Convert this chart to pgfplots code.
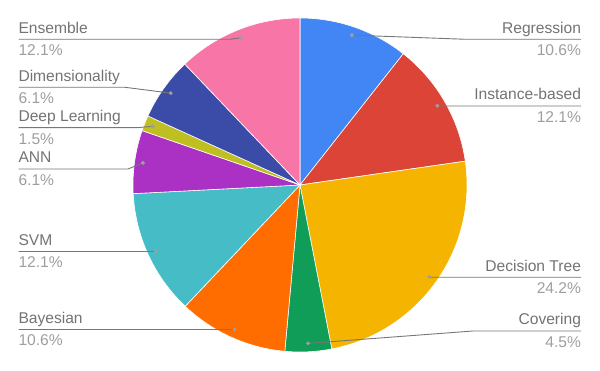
\documentclass[border=0pt]{standalone}
\usepackage{pgfplots}
\pgfplotsset{compat=1.18}
\usepackage{pgfplotstable}
\usepackage{fontspec}
\setmainfont{Liberation Sans}

\definecolor{cReg}{HTML}{4285F4}
\definecolor{cIns}{HTML}{DB4437}
\definecolor{cDec}{HTML}{F4B400}
\definecolor{cCov}{HTML}{0F9D58}
\definecolor{cBay}{HTML}{FF6D00}
\definecolor{cSVM}{HTML}{46BDC6}
\definecolor{cANN}{HTML}{AB30C4}
\definecolor{cDL}{HTML}{BFBF22}
\definecolor{cDim}{HTML}{3A4BA8}
\definecolor{cEns}{HTML}{F775A7}
\definecolor{txtA}{HTML}{737373}
\definecolor{txtB}{HTML}{9E9E9E}
\definecolor{lead}{HTML}{777777}

% name, percent, colour, side (0 left / 1 right), label line y, bend x
\pgfplotstableread[col sep=comma]{
name,pct,color,side,ly,bx
Regression,10.6,cReg,1,39.3,466
Instance-based,12.1,cIns,1,106,440
Decision Tree,24.2,cDec,1,277.3,430
Covering,4.5,cCov,1,331,473
Bayesian,10.6,cBay,0,329.5,230
SVM,12.1,cSVM,0,251.5,152
ANN,6.1,cANN,0,169,128
Deep Learning,1.5,cDL,0,127.7,137
Dimensionality,6.1,cDim,0,87.3,125
Ensemble,12.1,cEns,0,39.3,230
}\pietable

\tikzset{lbl/.style={font=\fontsize{15.6}{18}\selectfont, inner sep=0pt, outer sep=0pt}}

\begin{document}
\begin{tikzpicture}
\begin{axis}[
  width=600pt, height=371pt, scale only axis,
  xmin=0, xmax=600, ymin=0, ymax=371, y dir=reverse,
  hide axis, clip=false]
\path (rel axis cs:0,0) rectangle (rel axis cs:1,1);
\pgfplotstablegetrowsof{\pietable}
\pgfmathtruncatemacro\nlast{\pgfplotsretval-1}
\def\total{0}
\pgfplotsforeachungrouped \i in {0,...,\nlast}{%
  \pgfplotstablegetelem{\i}{pct}\of\pietable
  \pgfmathsetmacro\total{\total+\pgfplotsretval}%
}
% slices
\def\cum{0}
\pgfplotsforeachungrouped \i in {0,...,\nlast}{%
  \pgfplotstablegetelem{\i}{pct}\of\pietable \let\p\pgfplotsretval
  \pgfplotstablegetelem{\i}{color}\of\pietable \let\c\pgfplotsretval
  \pgfmathsetmacro\aS{\cum/\total*360}%
  \pgfmathsetmacro\aE{(\cum+\p)/\total*360}%
  \edef\doplot{\noexpand\addplot[fill=\c, draw=white, line width=0.6pt,
     domain=\aS:\aE, samples=60, variable=\noexpand\t]
     ({300+167*sin(\noexpand\t)},{185-167*cos(\noexpand\t)}) -- (axis cs:300,185) -- cycle;}%
  \doplot
  \pgfmathsetmacro\cum{\cum+\p}%
}
% leaders and labels
\def\cum{0}
\pgfplotsforeachungrouped \i in {0,...,\nlast}{%
  \pgfplotstablegetelem{\i}{pct}\of\pietable \let\p\pgfplotsretval
  \pgfplotstablegetelem{\i}{name}\of\pietable \let\nm\pgfplotsretval
  \pgfplotstablegetelem{\i}{side}\of\pietable \let\sd\pgfplotsretval
  \pgfplotstablegetelem{\i}{ly}\of\pietable \let\ly\pgfplotsretval
  \pgfplotstablegetelem{\i}{bx}\of\pietable \let\bx\pgfplotsretval
  \pgfmathsetmacro\am{(\cum+\p/2)/\total*360}%
  \pgfmathsetmacro\dx{300+158.6*sin(\am)}%
  \pgfmathsetmacro\dy{185-158.6*cos(\am)}%
  \pgfmathsetmacro\la{\ly-6}%
  \pgfmathsetmacro\lb{\ly+16.5}%
  \ifnum\sd=0
    \def\ex{18.5}\def\anc{west}%
  \else
    \def\ex{581}\def\anc{east}%
  \fi
  \edef\doplot{%
    \noexpand\addplot[lead, line width=0.9pt, no marks] coordinates {(\ex,\ly) (\bx,\ly) (\dx,\dy)};
    \noexpand\addplot[only marks, mark=*, mark size=1.8pt, color=txtB] coordinates {(\dx,\dy)};
    \noexpand\node[lbl, anchor=base \anc, text=txtA] at (axis cs:\ex,\la) {\nm};
    \noexpand\node[lbl, anchor=base \anc, text=txtB] at (axis cs:\ex,\lb) {\p\%};
  }%
  \doplot
  \pgfmathsetmacro\cum{\cum+\p}%
}
\end{axis}
\end{tikzpicture}
\end{document}
